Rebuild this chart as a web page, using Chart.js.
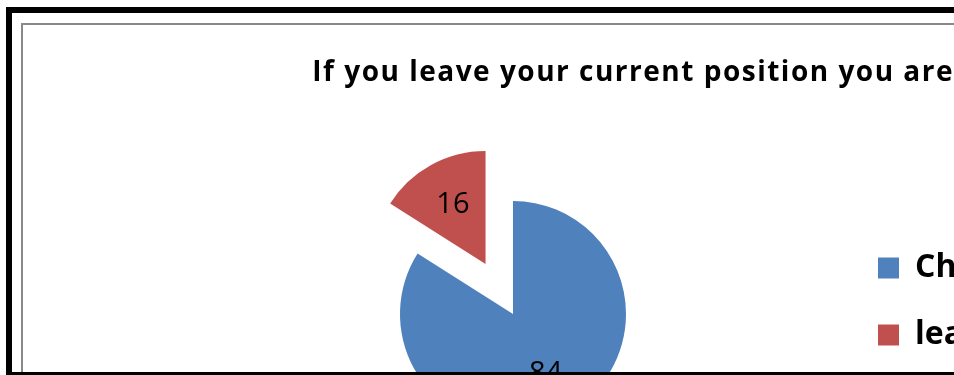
<!DOCTYPE html>
<html>
<head>
<meta charset="utf-8">
<script src="https://cdn.jsdelivr.net/npm/chart.js@4.4.0/dist/chart.umd.min.js"></script>
<style>
  html, body { margin: 0; padding: 0; width: 954px; height: 375px; overflow: hidden; background: #fff; }
  .frame-top { position: absolute; left: 6px; top: 7px; width: 948px; height: 6px; background: #000; z-index: 5; }
  .frame-left { position: absolute; left: 6px; top: 7px; width: 6px; height: 368px; background: #000; z-index: 5; }
  .frame-bottom { position: absolute; left: 6px; top: 372px; width: 948px; height: 3px; background: #000; z-index: 5; }
  .chart-border { position: absolute; left: 21px; top: 23px; width: 2000px; height: 2000px; border-left: 2px solid #898989; border-top: 2px solid #898989; }
  .chart-box { position: absolute; left: 23px; top: 25px; width: 931px; height: 480px; }
</style>
</head>
<body>
<div class="chart-border"></div>
<div class="chart-box"><canvas id="pie"></canvas></div>
<div class="frame-top"></div>
<div class="frame-left"></div>
<div class="frame-bottom"></div>
<script>
const titleText = 'If you leave your current position you are';
const categories = ['Change jobs', 'leave the field'];
const values = [84, 16];
const sliceColors = ['#4F81BD', '#C0504D'];
const explode = [0, 57]; // pulled-out distance of each slice, px

// pulled-out slice: move the whole arc along its middle angle
const baseArcDraw = Chart.ArcElement.prototype.draw;
Chart.ArcElement.prototype.draw = function (ctx) {
    const d = this.$explode || 0;
    if (!d) return baseArcDraw.call(this, ctx);
    const mid = (this.startAngle + this.endAngle) / 2;
    ctx.save();
    ctx.translate(Math.cos(mid) * d, Math.sin(mid) * d);
    baseArcDraw.call(this, ctx);
    ctx.restore();
};

// the title in the picture is set a little wider than Open Sans
if (Chart.Title && Chart.Title._element) {
    const baseTitleDraw = Chart.Title._element.prototype.draw;
    Chart.Title._element.prototype.draw = function () {
        const ctx = this.ctx;
        ctx.save();
        ctx.letterSpacing = '1.5px';
        baseTitleDraw.call(this);
        ctx.restore();
    };
}

const explodePlugin = {
    id: 'explode',
    afterUpdate(chart) {
        chart.getDatasetMeta(0).data.forEach((arc, i) => {
            arc.$explode = explode[i];
        });
    }
};

const sliceLabels = {
    id: 'sliceLabels',
    afterDatasetsDraw(chart) {
        const ctx = chart.ctx;
        const meta = chart.getDatasetMeta(0);
        ctx.save();
        ctx.font = '29px "Open Sans"';
        ctx.fillStyle = '#000';
        ctx.textAlign = 'center';
        ctx.textBaseline = 'middle';
        meta.data.forEach((arc, i) => {
            const mid = (arc.startAngle + arc.endAngle) / 2;
            const dist = explode[i] + arc.outerRadius * 0.6;
            ctx.fillText(String(values[i]), arc.x + Math.cos(mid) * dist, arc.y + Math.sin(mid) * dist);
        });
        ctx.restore();
    }
};

function drawChart() {
    const ctx = document.getElementById('pie').getContext('2d');
    new Chart(ctx, {
        type: 'pie',
        data: {
            labels: categories,
            datasets: [{
                data: values,
                backgroundColor: sliceColors,
                borderWidth: 0,
                radius: 113
            }]
        },
        options: {
            responsive: true,
            maintainAspectRatio: false,
            animation: false,
            layout: { padding: { left: 160, right: 0, top: 0, bottom: 94 } },
            plugins: {
                title: {
                    display: true,
                    text: titleText,
                    align: 'end',
                    color: '#000',
                    font: { family: 'Open Sans', size: 28, weight: 'bold' },
                    padding: { top: 31, bottom: 127.4 }
                },
                legend: {
                    position: 'right',
                    align: 'start',
                    fullSize: false,
                    maxWidth: 111,
                    labels: {
                        boxWidth: 21,
                        boxHeight: 21,
                        padding: 35,
                        color: '#000',
                        font: { family: 'Open Sans', size: 32, weight: 'bold' }
                    }
                },
                tooltip: { enabled: false }
            }
        },
        plugins: [explodePlugin, sliceLabels]
    });
}
drawChart();
</script>
</body>
</html>
